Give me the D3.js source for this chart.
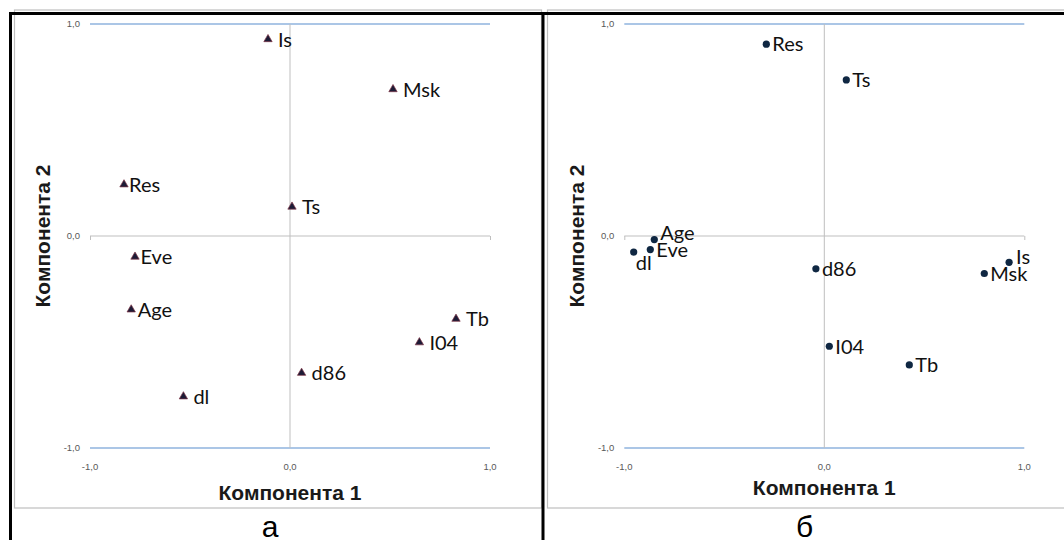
<!DOCTYPE html>
<html>
<head>
<meta charset="utf-8">
<script src="https://cdn.jsdelivr.net/npm/d3@7"></script>
<style>
  html, body { margin: 0; padding: 0; background: #fff; }
  svg { display: block; }
</style>
</head>
<body>
<svg id="fig" width="1064" height="540"></svg>
<script>
// Factor loadings, panel "а" (triangles)
const varsA  = ["Is", "Msk", "Res", "Ts", "Eve", "Age", "Tb", "I04", "d86", "dl"];
const comp1A = [-0.11, 0.515, -0.83, 0.01, -0.775, -0.794, 0.83, 0.647, 0.058, -0.533];
const comp2A = [0.928, 0.692, 0.243, 0.138, -0.098, -0.347, -0.391, -0.502, -0.646, -0.757];

// Factor loadings, panel "б" (circles)
const varsB  = ["Res", "Ts", "Age", "Eve", "dl", "d86", "Is", "Msk", "I04", "Tb"];
const comp1B = [-0.29, 0.11, -0.85, -0.87, -0.953, -0.042, 0.924, 0.80, 0.025, 0.425];
const comp2B = [0.905, 0.736, -0.017, -0.064, -0.076, -0.155, -0.124, -0.177, -0.52, -0.608];

const tickValues = [-1, 0, 1];
const tickLabels = ["-1,0", "0,0", "1,0"];
const xTitle = "Компонента 1";
const yTitle = "Компонента 2";
const panelLetters = ["а", "б"];

const svg = d3.select("#fig");

// Frame: grey chart boxes and the black table rules
svg.append("rect").attr("x", 14.5).attr("y", 10).attr("width", 527).attr("height", 498)
  .attr("fill", "#fff").attr("stroke", "#bfbfbf").attr("stroke-width", 1.2);
svg.append("rect").attr("x", 547.5).attr("y", 10).attr("width", 530).attr("height", 498)
  .attr("fill", "#fff").attr("stroke", "#bfbfbf").attr("stroke-width", 1.2);
svg.append("line").attr("x1", 9).attr("x2", 1064).attr("y1", 13.5).attr("y2", 13.5)
  .attr("stroke", "#000").attr("stroke-width", 3);
svg.append("line").attr("x1", 10.5).attr("x2", 10.5).attr("y1", 12).attr("y2", 540)
  .attr("stroke", "#000").attr("stroke-width", 3);
svg.append("line").attr("x1", 543).attr("x2", 543).attr("y1", 12).attr("y2", 540)
  .attr("stroke", "#000").attr("stroke-width", 3);

const panels = [
  {
    names: varsA, xs: comp1A, ys: comp2A, marker: "triangle",
    left: 90, top: 24, width: 400, height: 424,
    labelDx: 10,
    special: { Res: { dx: 5, dy: 0 }, Eve: { dx: 5.5, dy: 0 }, Age: { dx: 6.5, dy: 0 } },
    yTitleX: 50, xTitleY: 500, letterX: 270
  },
  {
    names: varsB, xs: comp1B, ys: comp2B, marker: "circle",
    left: 624.3, top: 24, width: 400, height: 424,
    labelDx: 6,
    special: { Age: { dx: 6, dy: -7 }, Is: { dx: 7, dy: -6 }, dl: { dx: 2, dy: 11 } },
    yTitleX: 584, xTitleY: 495, letterX: 804.5
  }
];

panels.forEach((p, i) => {
  const x = d3.scaleLinear().domain([-1, 1]).range([p.left, p.left + p.width]);
  const y = d3.scaleLinear().domain([-1, 1]).range([p.top + p.height, p.top]);
  const g = svg.append("g");

  // Horizontal gridlines at ±1
  g.selectAll("line.grid").data(tickValues.filter(v => v !== 0)).join("line")
    .attr("class", "grid")
    .attr("x1", x(-1)).attr("x2", x(1))
    .attr("y1", d => y(d)).attr("y2", d => y(d))
    .attr("stroke", "#8fb3de").attr("stroke-width", 1.5);

  // Vertical axis through zero
  g.append("line").attr("x1", x(0)).attr("x2", x(0)).attr("y1", y(1)).attr("y2", y(-1))
    .attr("stroke", "#bfbfbf").attr("stroke-width", 1);

  // Horizontal axis through zero with end ticks
  const xAxis = d3.axisBottom(x).tickValues([-1, 1]).tickSize(4).tickFormat("");
  const ax = g.append("g").attr("transform", `translate(0,${y(0)})`).call(xAxis);
  ax.select(".domain").attr("stroke", "#bfbfbf").attr("d", `M${x(-1)},0H${x(1)}`);
  ax.selectAll(".tick line").attr("stroke", "#bfbfbf");

  // Tick labels
  g.selectAll("text.ytick").data(tickValues).join("text")
    .attr("class", "ytick")
    .attr("x", x(-1) - 10).attr("y", d => y(d) + 3.2)
    .attr("text-anchor", "end")
    .attr("font-family", "Liberation Sans, Arial, sans-serif").attr("font-size", 9.5)
    .attr("fill", "#595959")
    .text((d, k) => tickLabels[k]);
  g.selectAll("text.xtick").data(tickValues).join("text")
    .attr("class", "xtick")
    .attr("x", d => x(d)).attr("y", p.top + p.height + 21.5)
    .attr("text-anchor", "middle")
    .attr("font-family", "Liberation Sans, Arial, sans-serif").attr("font-size", 9.5)
    .attr("fill", "#595959")
    .text((d, k) => tickLabels[k]);

  // Axis titles
  g.append("text")
    .attr("x", x(0)).attr("y", p.xTitleY)
    .attr("text-anchor", "middle")
    .attr("font-family", "Liberation Sans, Arial, sans-serif").attr("font-weight", "bold")
    .attr("font-size", 21).attr("fill", "#1a1a1a")
    .text(xTitle);
  g.append("text")
    .attr("transform", `translate(${p.yTitleX},${y(0)}) rotate(-90)`)
    .attr("text-anchor", "middle")
    .attr("font-family", "Liberation Sans, Arial, sans-serif").attr("font-weight", "bold")
    .attr("font-size", 21).attr("fill", "#1a1a1a")
    .text(yTitle);

  // Points
  const pts = p.names.map((n, k) => ({ name: n, c1: p.xs[k], c2: p.ys[k] }));
  if (p.marker === "triangle") {
    const tri = d3.symbol().type(d3.symbolTriangle).size(30);
    g.selectAll("path.pt").data(pts).join("path")
      .attr("class", "pt")
      .attr("d", tri)
      .attr("transform", d => `translate(${x(d.c1)},${y(d.c2)})`)
      .attr("fill", "#1d1b36").attr("stroke", "#7c3345").attr("stroke-width", 0.7);
  } else {
    g.selectAll("circle.pt").data(pts).join("circle")
      .attr("class", "pt")
      .attr("cx", d => x(d.c1)).attr("cy", d => y(d.c2)).attr("r", 3.6)
      .attr("fill", "#0f2742");
  }

  // Point labels
  g.selectAll("text.lbl").data(pts).join("text")
    .attr("class", "lbl")
    .attr("x", d => x(d.c1) + (p.special[d.name] ? p.special[d.name].dx : p.labelDx))
    .attr("y", d => y(d.c2) + 7.3 + (p.special[d.name] ? p.special[d.name].dy : 0))
    .attr("font-family", "Lato, Carlito, sans-serif").attr("font-size", 20)
    .attr("fill", "#111")
    .text(d => d.name);

  // Panel letter
  svg.append("text")
    .attr("x", p.letterX).attr("y", 537)
    .attr("text-anchor", "middle")
    .attr("font-family", "Liberation Sans, Arial, sans-serif").attr("font-size", 30)
    .attr("fill", "#000")
    .text(panelLetters[i]);
});
</script>
</body>
</html>
